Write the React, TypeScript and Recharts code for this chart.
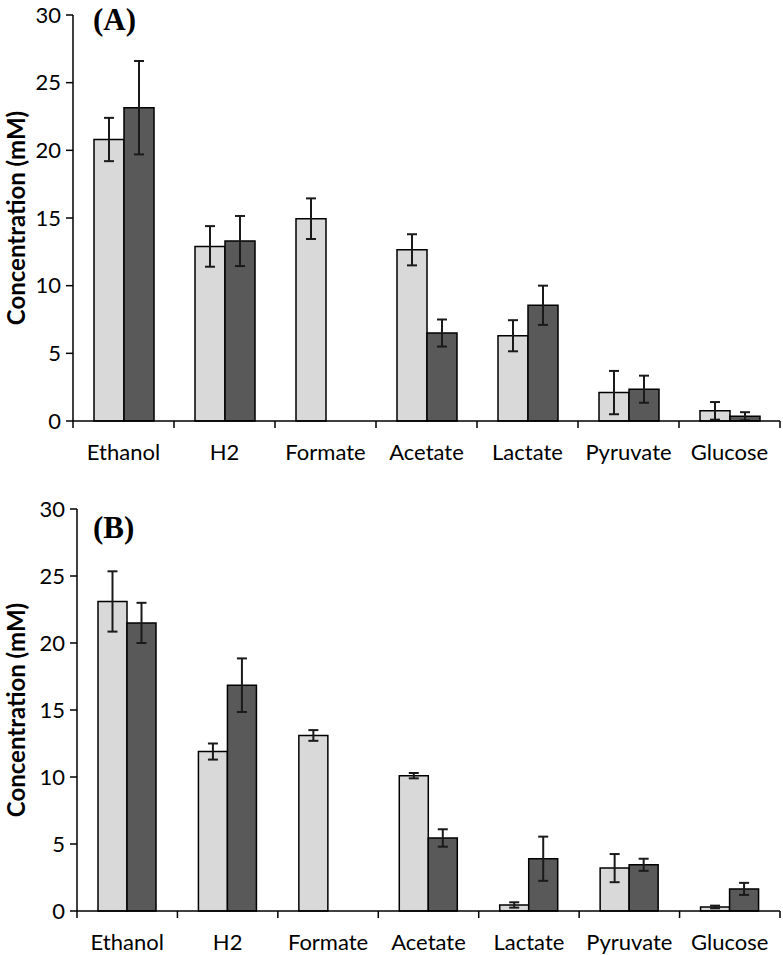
import React from 'react';
import { BarChart, Bar, XAxis, YAxis, ErrorBar, Label } from 'recharts';

const categories = ['Ethanol', 'H2', 'Formate', 'Acetate', 'Lactate', 'Pyruvate', 'Glucose'];

// panel A
const aLight = [20.8, 12.9, 14.95, 12.65, 6.3, 2.1, 0.75];
const aLightErr = [1.6, 1.5, 1.5, 1.15, 1.15, 1.6, 0.65];
const aDark = [23.15, 13.3, 0, 6.5, 8.55, 2.35, 0.35];
const aDarkErr = [3.45, 1.85, null, 1.0, 1.45, 1.0, 0.3];

// panel B
const bLight = [23.1, 11.9, 13.1, 10.1, 0.45, 3.2, 0.3];
const bLightErr = [2.25, 0.6, 0.4, 0.2, 0.2, 1.05, 0.1];
const bDark = [21.5, 16.85, 0, 5.45, 3.9, 3.45, 1.65];
const bDarkErr = [1.5, 2.0, null, 0.65, 1.65, 0.45, 0.45];

const yTicks = [0, 5, 10, 15, 20, 25, 30];

const FONT = 'Lato, "Open Sans", sans-serif';

const buildRows = (light: number[], lightErr: (number | null)[], dark: number[], darkErr: (number | null)[]) =>
  categories.map((name, i) => ({
    name,
    light: light[i],
    lightErr: lightErr[i],
    dark: dark[i],
    darkErr: darkErr[i],
  }));

// category label plus the boundary tick marks Excel puts between groups
const CategoryTick = (props: any) => {
  const { x, y, payload, index } = props;
  const half = payload && payload.offset ? payload.offset : 50.5;
  const isLast = index === categories.length - 1;
  return (
    <g>
      <line x1={x - half} y1={y} x2={x - half} y2={y + 7} stroke="#000" strokeWidth={1.5} />
      {isLast && <line x1={x + half} y1={y} x2={x + half} y2={y + 7} stroke="#000" strokeWidth={1.5} />}
      <text x={x} y={y + 30} textAnchor="middle" dominantBaseline="central" fontSize={22} fontFamily={FONT} fill="#000">
        {payload.value}
      </text>
    </g>
  );
};

const YTitle = (props: any) => {
  const { viewBox } = props;
  const cy = viewBox.y + viewBox.height / 2;
  return (
    <text
      x={15}
      y={cy}
      transform={`rotate(-90, 15, ${cy})`}
      textAnchor="middle"
      dominantBaseline="central"
      fontSize={24}
      fontWeight="bold"
      fontFamily={FONT}
      fill="#000"
    >
      Concentration (mM)
    </text>
  );
};

const Panel: React.FC<{
  data: any[];
  top: number;
  height: number;
  marginTop: number;
  axisWidth: number;
  letter: string;
  letterTop: number;
}> = ({ data, top, height, marginTop, axisWidth, letter, letterTop }) => {
  return (
    <div style={{ position: 'absolute', left: 0, top, width: 783, height }}>
      <BarChart
        width={783}
        height={height}
        data={data}
        margin={{ top: marginTop, right: 3, bottom: 0, left: 0 }}
        barCategoryGap={21}
        barGap={0}
      >
        <XAxis
          dataKey="name"
          height={44}
          tickLine={false}
          tickSize={0}
          tickMargin={0}
          tick={<CategoryTick />}
          axisLine={{ stroke: '#000', strokeWidth: 1.5 }}
          interval={0}
        />
        <YAxis
          width={axisWidth}
          domain={[0, 30]}
          ticks={yTicks}
          tickSize={7}
          tickMargin={5}
          tickLine={{ stroke: '#000', strokeWidth: 1.5 }}
          axisLine={{ stroke: '#000', strokeWidth: 1.5 }}
          tick={{ fill: '#000', fontSize: 22, fontFamily: FONT }}
        >
          <Label content={<YTitle />} />
        </YAxis>
        <Bar dataKey="light" fill="#d9d9d9" stroke="#000" strokeWidth={1.5} isAnimationActive={false}>
          <ErrorBar dataKey="lightErr" width={5} strokeWidth={2} stroke="#1a1a1a" direction="y" />
        </Bar>
        <Bar dataKey="dark" fill="#595959" stroke="#000" strokeWidth={1.5} isAnimationActive={false}>
          <ErrorBar dataKey="darkErr" width={5} strokeWidth={2} stroke="#1a1a1a" direction="y" />
        </Bar>
      </BarChart>
      <div
        style={{
          position: 'absolute',
          left: 93,
          top: letterTop,
          fontFamily: '"Liberation Serif", "Times New Roman", serif',
          fontWeight: 'bold',
          fontSize: 31,
          lineHeight: 1,
          color: '#000',
        }}
      >
        {letter}
      </div>
    </div>
  );
};

export default function App() {
  const dataA = buildRows(aLight, aLightErr, aDark, aDarkErr);
  const dataB = buildRows(bLight, bLightErr, bDark, bDarkErr);
  return (
    <div style={{ position: 'absolute', left: 0, top: 0, width: 783, height: 955, background: '#fff' }}>
      <Panel data={dataA} top={0} height={465} marginTop={15} axisWidth={73} letter="(A)" letterTop={4} />
      <Panel data={dataB} top={470} height={485} marginTop={39} axisWidth={77} letter="(B)" letterTop={42} />
    </div>
  );
}
